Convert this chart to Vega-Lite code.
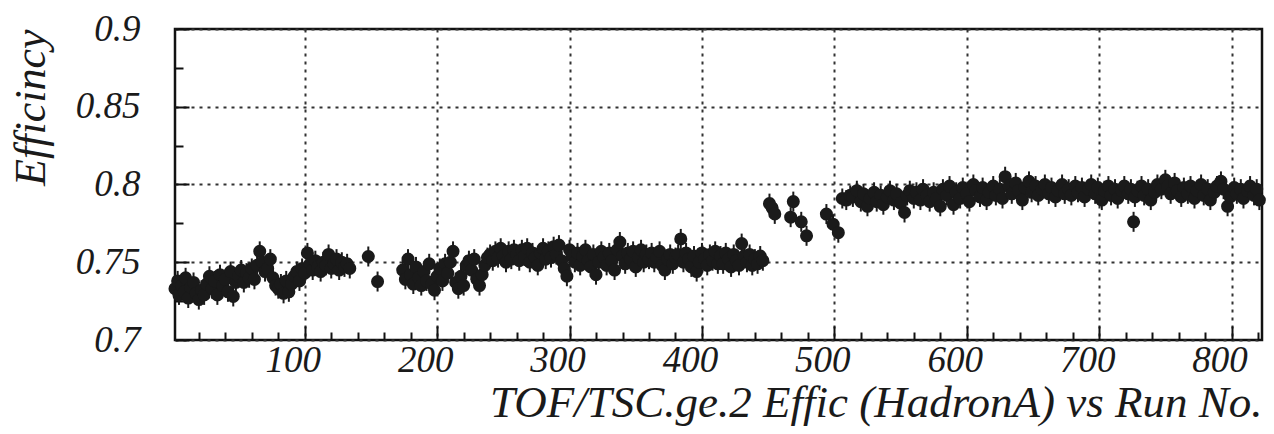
{
  "$schema": "https://vega.github.io/schema/vega-lite/v6.json",
  "width": 1087,
  "height": 311,
  "autosize": {"type": "none"},
  "padding": {"left": 175, "top": 29, "right": 12, "bottom": 94},
  "background": "white",
  "config": {
    "view": {"stroke": "#111111", "strokeWidth": 2.5},
    "font": "'Liberation Serif', 'DejaVu Serif', serif",
    "axis": {
      "labelFont": "'Liberation Serif', 'DejaVu Serif', serif", "labelFontStyle": "italic", "labelFontSize": 37, "labelColor": "#1a1a1a",
      "titleFont": "'Liberation Serif', 'DejaVu Serif', serif", "titleFontStyle": "italic", "titleFontWeight": "normal", "titleFontSize": 45, "titleColor": "#1a1a1a",
      "gridColor": "#333333", "gridDash": [3, 5], "gridWidth": 2, "gridOpacity": 1,
      "tickColor": "#111111", "tickWidth": 2, "domain": false,
      "labelFlush": false, "labelOverlap": false, "labelBound": false
    }
  },
  "data": {"values": [
    {"run":2,"eff":0.733},{"run":4,"eff":0.738},{"run":5,"eff":0.729},{"run":7,"eff":0.735},{"run":9,"eff":0.731},{"run":10,"eff":0.740},{"run":12,"eff":0.727},{"run":14,"eff":0.734},{"run":16,"eff":0.737},{"run":18,"eff":0.730},{"run":20,"eff":0.726},{"run":22,"eff":0.732},{"run":24,"eff":0.729},{"run":26,"eff":0.736},{"run":28,"eff":0.741},{"run":30,"eff":0.733},{"run":32,"eff":0.738},{"run":34,"eff":0.729},{"run":36,"eff":0.742},{"run":38,"eff":0.735},{"run":40,"eff":0.739},{"run":42,"eff":0.731},{"run":44,"eff":0.744},{"run":46,"eff":0.728},{"run":48,"eff":0.737},{"run":50,"eff":0.741},{"run":52,"eff":0.745},{"run":54,"eff":0.737},{"run":56,"eff":0.743},{"run":58,"eff":0.740},{"run":60,"eff":0.746},{"run":62,"eff":0.739},{"run":64,"eff":0.748},{"run":66,"eff":0.757},{"run":68,"eff":0.750},{"run":70,"eff":0.744},{"run":72,"eff":0.746},{"run":74,"eff":0.752},{"run":76,"eff":0.740},{"run":78,"eff":0.735},{"run":80,"eff":0.733},{"run":82,"eff":0.736},{"run":84,"eff":0.730},{"run":86,"eff":0.738},{"run":88,"eff":0.731},{"run":90,"eff":0.736},{"run":92,"eff":0.741},{"run":94,"eff":0.744},{"run":96,"eff":0.738},{"run":98,"eff":0.746},{"run":100,"eff":0.743},{"run":102,"eff":0.756},{"run":104,"eff":0.749},{"run":106,"eff":0.745},{"run":108,"eff":0.751},{"run":110,"eff":0.747},{"run":112,"eff":0.744},{"run":114,"eff":0.750},{"run":116,"eff":0.748},{"run":118,"eff":0.755},{"run":120,"eff":0.746},{"run":122,"eff":0.749},{"run":124,"eff":0.752},{"run":126,"eff":0.745},{"run":128,"eff":0.750},{"run":130,"eff":0.747},{"run":132,"eff":0.749},{"run":134,"eff":0.746},
    {"run":148,"eff":0.7537},{"run":155,"eff":0.7376},
    {"run":174,"eff":0.745},{"run":176,"eff":0.739},{"run":178,"eff":0.752},{"run":180,"eff":0.742},{"run":182,"eff":0.736},{"run":184,"eff":0.747},{"run":186,"eff":0.740},{"run":188,"eff":0.735},{"run":190,"eff":0.744},{"run":192,"eff":0.738},{"run":194,"eff":0.749},{"run":196,"eff":0.736},{"run":198,"eff":0.732},{"run":200,"eff":0.741},{"run":202,"eff":0.746},{"run":204,"eff":0.738},{"run":206,"eff":0.749},{"run":208,"eff":0.743},{"run":210,"eff":0.750},{"run":212,"eff":0.757},{"run":214,"eff":0.737},{"run":216,"eff":0.733},{"run":218,"eff":0.741},{"run":220,"eff":0.735},{"run":222,"eff":0.748},{"run":224,"eff":0.751},{"run":226,"eff":0.745},{"run":228,"eff":0.752},{"run":230,"eff":0.739},{"run":232,"eff":0.735},{"run":234,"eff":0.742},{"run":236,"eff":0.748},{"run":238,"eff":0.753},
    {"run":240,"eff":0.755},{"run":242,"eff":0.751},{"run":244,"eff":0.757},{"run":246,"eff":0.753},{"run":248,"eff":0.759},{"run":250,"eff":0.754},{"run":252,"eff":0.750},{"run":254,"eff":0.757},{"run":256,"eff":0.752},{"run":258,"eff":0.758},{"run":260,"eff":0.755},{"run":262,"eff":0.751},{"run":264,"eff":0.758},{"run":266,"eff":0.754},{"run":268,"eff":0.759},{"run":270,"eff":0.750},{"run":272,"eff":0.756},{"run":274,"eff":0.753},{"run":276,"eff":0.748},{"run":278,"eff":0.756},{"run":280,"eff":0.759},{"run":282,"eff":0.752},{"run":284,"eff":0.757},{"run":286,"eff":0.753},{"run":288,"eff":0.760},{"run":290,"eff":0.755},{"run":292,"eff":0.761},{"run":294,"eff":0.751},{"run":296,"eff":0.746},{"run":298,"eff":0.741},{"run":300,"eff":0.758},{"run":302,"eff":0.754},{"run":304,"eff":0.750},{"run":306,"eff":0.756},{"run":308,"eff":0.748},{"run":310,"eff":0.754},{"run":312,"eff":0.758},{"run":314,"eff":0.751},{"run":316,"eff":0.747},{"run":318,"eff":0.755},{"run":320,"eff":0.742},{"run":322,"eff":0.750},{"run":324,"eff":0.757},{"run":326,"eff":0.753},{"run":328,"eff":0.748},{"run":330,"eff":0.756},{"run":332,"eff":0.751},{"run":334,"eff":0.745},{"run":336,"eff":0.758},{"run":338,"eff":0.763},{"run":340,"eff":0.754},{"run":342,"eff":0.749},{"run":344,"eff":0.756},{"run":346,"eff":0.752},{"run":348,"eff":0.757},{"run":350,"eff":0.747},{"run":352,"eff":0.753},{"run":354,"eff":0.758},{"run":356,"eff":0.750},{"run":358,"eff":0.755},{"run":360,"eff":0.752},{"run":362,"eff":0.756},{"run":364,"eff":0.750},{"run":366,"eff":0.753},{"run":368,"eff":0.757},{"run":370,"eff":0.748},{"run":372,"eff":0.745},{"run":374,"eff":0.752},{"run":376,"eff":0.755},{"run":378,"eff":0.749},{"run":380,"eff":0.753},{"run":382,"eff":0.755},{"run":384,"eff":0.765},{"run":386,"eff":0.750},{"run":388,"eff":0.756},{"run":390,"eff":0.752},{"run":392,"eff":0.747},{"run":394,"eff":0.754},{"run":396,"eff":0.744},{"run":398,"eff":0.750},{"run":400,"eff":0.756},{"run":402,"eff":0.752},{"run":404,"eff":0.748},{"run":406,"eff":0.755},{"run":408,"eff":0.751},{"run":410,"eff":0.757},{"run":412,"eff":0.749},{"run":414,"eff":0.754},{"run":416,"eff":0.749},{"run":418,"eff":0.756},{"run":420,"eff":0.752},{"run":422,"eff":0.747},{"run":424,"eff":0.755},{"run":426,"eff":0.751},{"run":428,"eff":0.748},{"run":430,"eff":0.762},{"run":432,"eff":0.754},{"run":434,"eff":0.750},{"run":436,"eff":0.755},{"run":438,"eff":0.748},{"run":440,"eff":0.752},{"run":442,"eff":0.749},{"run":444,"eff":0.754},{"run":446,"eff":0.751},
    {"run":451,"eff":0.7877},{"run":453,"eff":0.785},{"run":455,"eff":0.7811},{"run":467,"eff":0.779},{"run":469,"eff":0.789},{"run":475,"eff":0.776},{"run":479,"eff":0.767},{"run":494,"eff":0.781},{"run":499,"eff":0.7745},{"run":503,"eff":0.769},
    {"run":506,"eff":0.791},{"run":509,"eff":0.790},{"run":512,"eff":0.793},{"run":514,"eff":0.792},{"run":517,"eff":0.796},{"run":520,"eff":0.789},{"run":522,"eff":0.794},{"run":525,"eff":0.786},{"run":527,"eff":0.791},{"run":530,"eff":0.795},{"run":532,"eff":0.789},{"run":535,"eff":0.793},{"run":537,"eff":0.787},{"run":540,"eff":0.792},{"run":542,"eff":0.796},{"run":545,"eff":0.790},{"run":547,"eff":0.794},{"run":550,"eff":0.788},{"run":553,"eff":0.782},{"run":555,"eff":0.793},{"run":557,"eff":0.796},{"run":560,"eff":0.791},{"run":562,"eff":0.795},{"run":565,"eff":0.790},{"run":567,"eff":0.797},{"run":570,"eff":0.793},{"run":572,"eff":0.789},{"run":575,"eff":0.795},{"run":577,"eff":0.791},{"run":580,"eff":0.786},{"run":582,"eff":0.797},{"run":585,"eff":0.793},{"run":587,"eff":0.799},{"run":590,"eff":0.787},{"run":592,"eff":0.795},{"run":595,"eff":0.791},{"run":597,"eff":0.798},{"run":600,"eff":0.794},{"run":602,"eff":0.789},{"run":605,"eff":0.800},{"run":607,"eff":0.796},{"run":610,"eff":0.792},{"run":612,"eff":0.798},{"run":615,"eff":0.790},{"run":617,"eff":0.795},{"run":620,"eff":0.799},{"run":622,"eff":0.793},{"run":625,"eff":0.797},{"run":627,"eff":0.791},{"run":629,"eff":0.805},{"run":632,"eff":0.799},{"run":634,"eff":0.794},{"run":637,"eff":0.801},{"run":639,"eff":0.796},{"run":642,"eff":0.790},{"run":644,"eff":0.798},{"run":647,"eff":0.802},{"run":649,"eff":0.795},{"run":652,"eff":0.799},{"run":654,"eff":0.793},{"run":657,"eff":0.797},{"run":659,"eff":0.800},{"run":662,"eff":0.794},{"run":664,"eff":0.798},{"run":667,"eff":0.792},{"run":669,"eff":0.796},{"run":672,"eff":0.800},{"run":674,"eff":0.794},{"run":677,"eff":0.797},{"run":679,"eff":0.793},{"run":682,"eff":0.799},{"run":684,"eff":0.795},{"run":687,"eff":0.798},{"run":689,"eff":0.792},{"run":692,"eff":0.797},{"run":694,"eff":0.800},{"run":697,"eff":0.794},{"run":699,"eff":0.798},{"run":702,"eff":0.790},{"run":704,"eff":0.796},{"run":707,"eff":0.799},{"run":709,"eff":0.793},{"run":712,"eff":0.797},{"run":714,"eff":0.791},{"run":717,"eff":0.796},{"run":719,"eff":0.799},{"run":722,"eff":0.794},{"run":724,"eff":0.797},{"run":726,"eff":0.776},{"run":727,"eff":0.792},{"run":729,"eff":0.796},{"run":732,"eff":0.799},{"run":734,"eff":0.793},{"run":737,"eff":0.797},{"run":739,"eff":0.790},{"run":742,"eff":0.795},{"run":744,"eff":0.800},{"run":747,"eff":0.797},{"run":750,"eff":0.803},{"run":752,"eff":0.799},{"run":754,"eff":0.794},{"run":757,"eff":0.801},{"run":759,"eff":0.796},{"run":762,"eff":0.792},{"run":764,"eff":0.798},{"run":767,"eff":0.794},{"run":769,"eff":0.799},{"run":772,"eff":0.791},{"run":774,"eff":0.796},{"run":777,"eff":0.800},{"run":779,"eff":0.793},{"run":782,"eff":0.797},{"run":784,"eff":0.790},{"run":787,"eff":0.795},{"run":789,"eff":0.799},{"run":792,"eff":0.802},{"run":794,"eff":0.797},{"run":797,"eff":0.786},{"run":799,"eff":0.792},{"run":802,"eff":0.798},{"run":804,"eff":0.794},{"run":807,"eff":0.797},{"run":809,"eff":0.791},{"run":812,"eff":0.796},{"run":814,"eff":0.799},{"run":817,"eff":0.793},{"run":819,"eff":0.797},{"run":821,"eff":0.790}
  ]},
  "layer": [
    {
      "mark": {"type": "tick", "orient": "vertical", "size": 20, "thickness": 2, "color": "#1a1a1a", "opacity": 1},
      "encoding": {
        "x": {"field": "run", "type": "quantitative",
              "scale": {"domain": [2, 823], "nice": false, "zero": false},
              "axis": {"orient": "bottom", "values": [20,40,60,80,120,140,160,180,220,240,260,280,320,340,360,380,420,440,460,480,520,540,560,580,620,640,660,680,720,740,760,780,820], "labels": false, "grid": false, "tickSize": -8, "title": null}},
        "y": {"field": "eff", "type": "quantitative",
              "scale": {"domain": [0.7, 0.9], "nice": false, "zero": false},
              "axis": {"orient": "left", "values": [0.725, 0.775, 0.825, 0.875], "labels": false, "grid": false, "tickSize": -8, "title": null}}
      }
    },
    {
      "mark": {"type": "circle", "size": 170, "color": "#1a1a1a", "opacity": 1},
      "encoding": {
        "x": {"field": "run", "type": "quantitative",
              "scale": {"domain": [2, 823], "nice": false, "zero": false},
              "axis": {"orient": "bottom", "values": [100,200,300,400,500,600,700,800], "format": "d", "grid": true, "tickSize": -14, "labelPadding": 16, "labelOffset": -12,
                       "title": "TOF/TSC.ge.2 Effic (HadronA) vs Run No.", "titleAnchor": "end", "titlePadding": 2}},
        "y": {"field": "eff", "type": "quantitative",
              "scale": {"domain": [0.7, 0.9], "nice": false, "zero": false},
              "axis": {"orient": "left", "values": [0.7, 0.75, 0.8, 0.85, 0.9], "format": "~g", "grid": true, "tickSize": -14, "labelPadding": 49,
                       "title": "Efficincy", "titleAnchor": "end", "titlePadding": 22, "titleFontSize": 44}}
      }
    }
  ],
  "resolve": {"axis": {"x": "independent", "y": "independent"}}
}
